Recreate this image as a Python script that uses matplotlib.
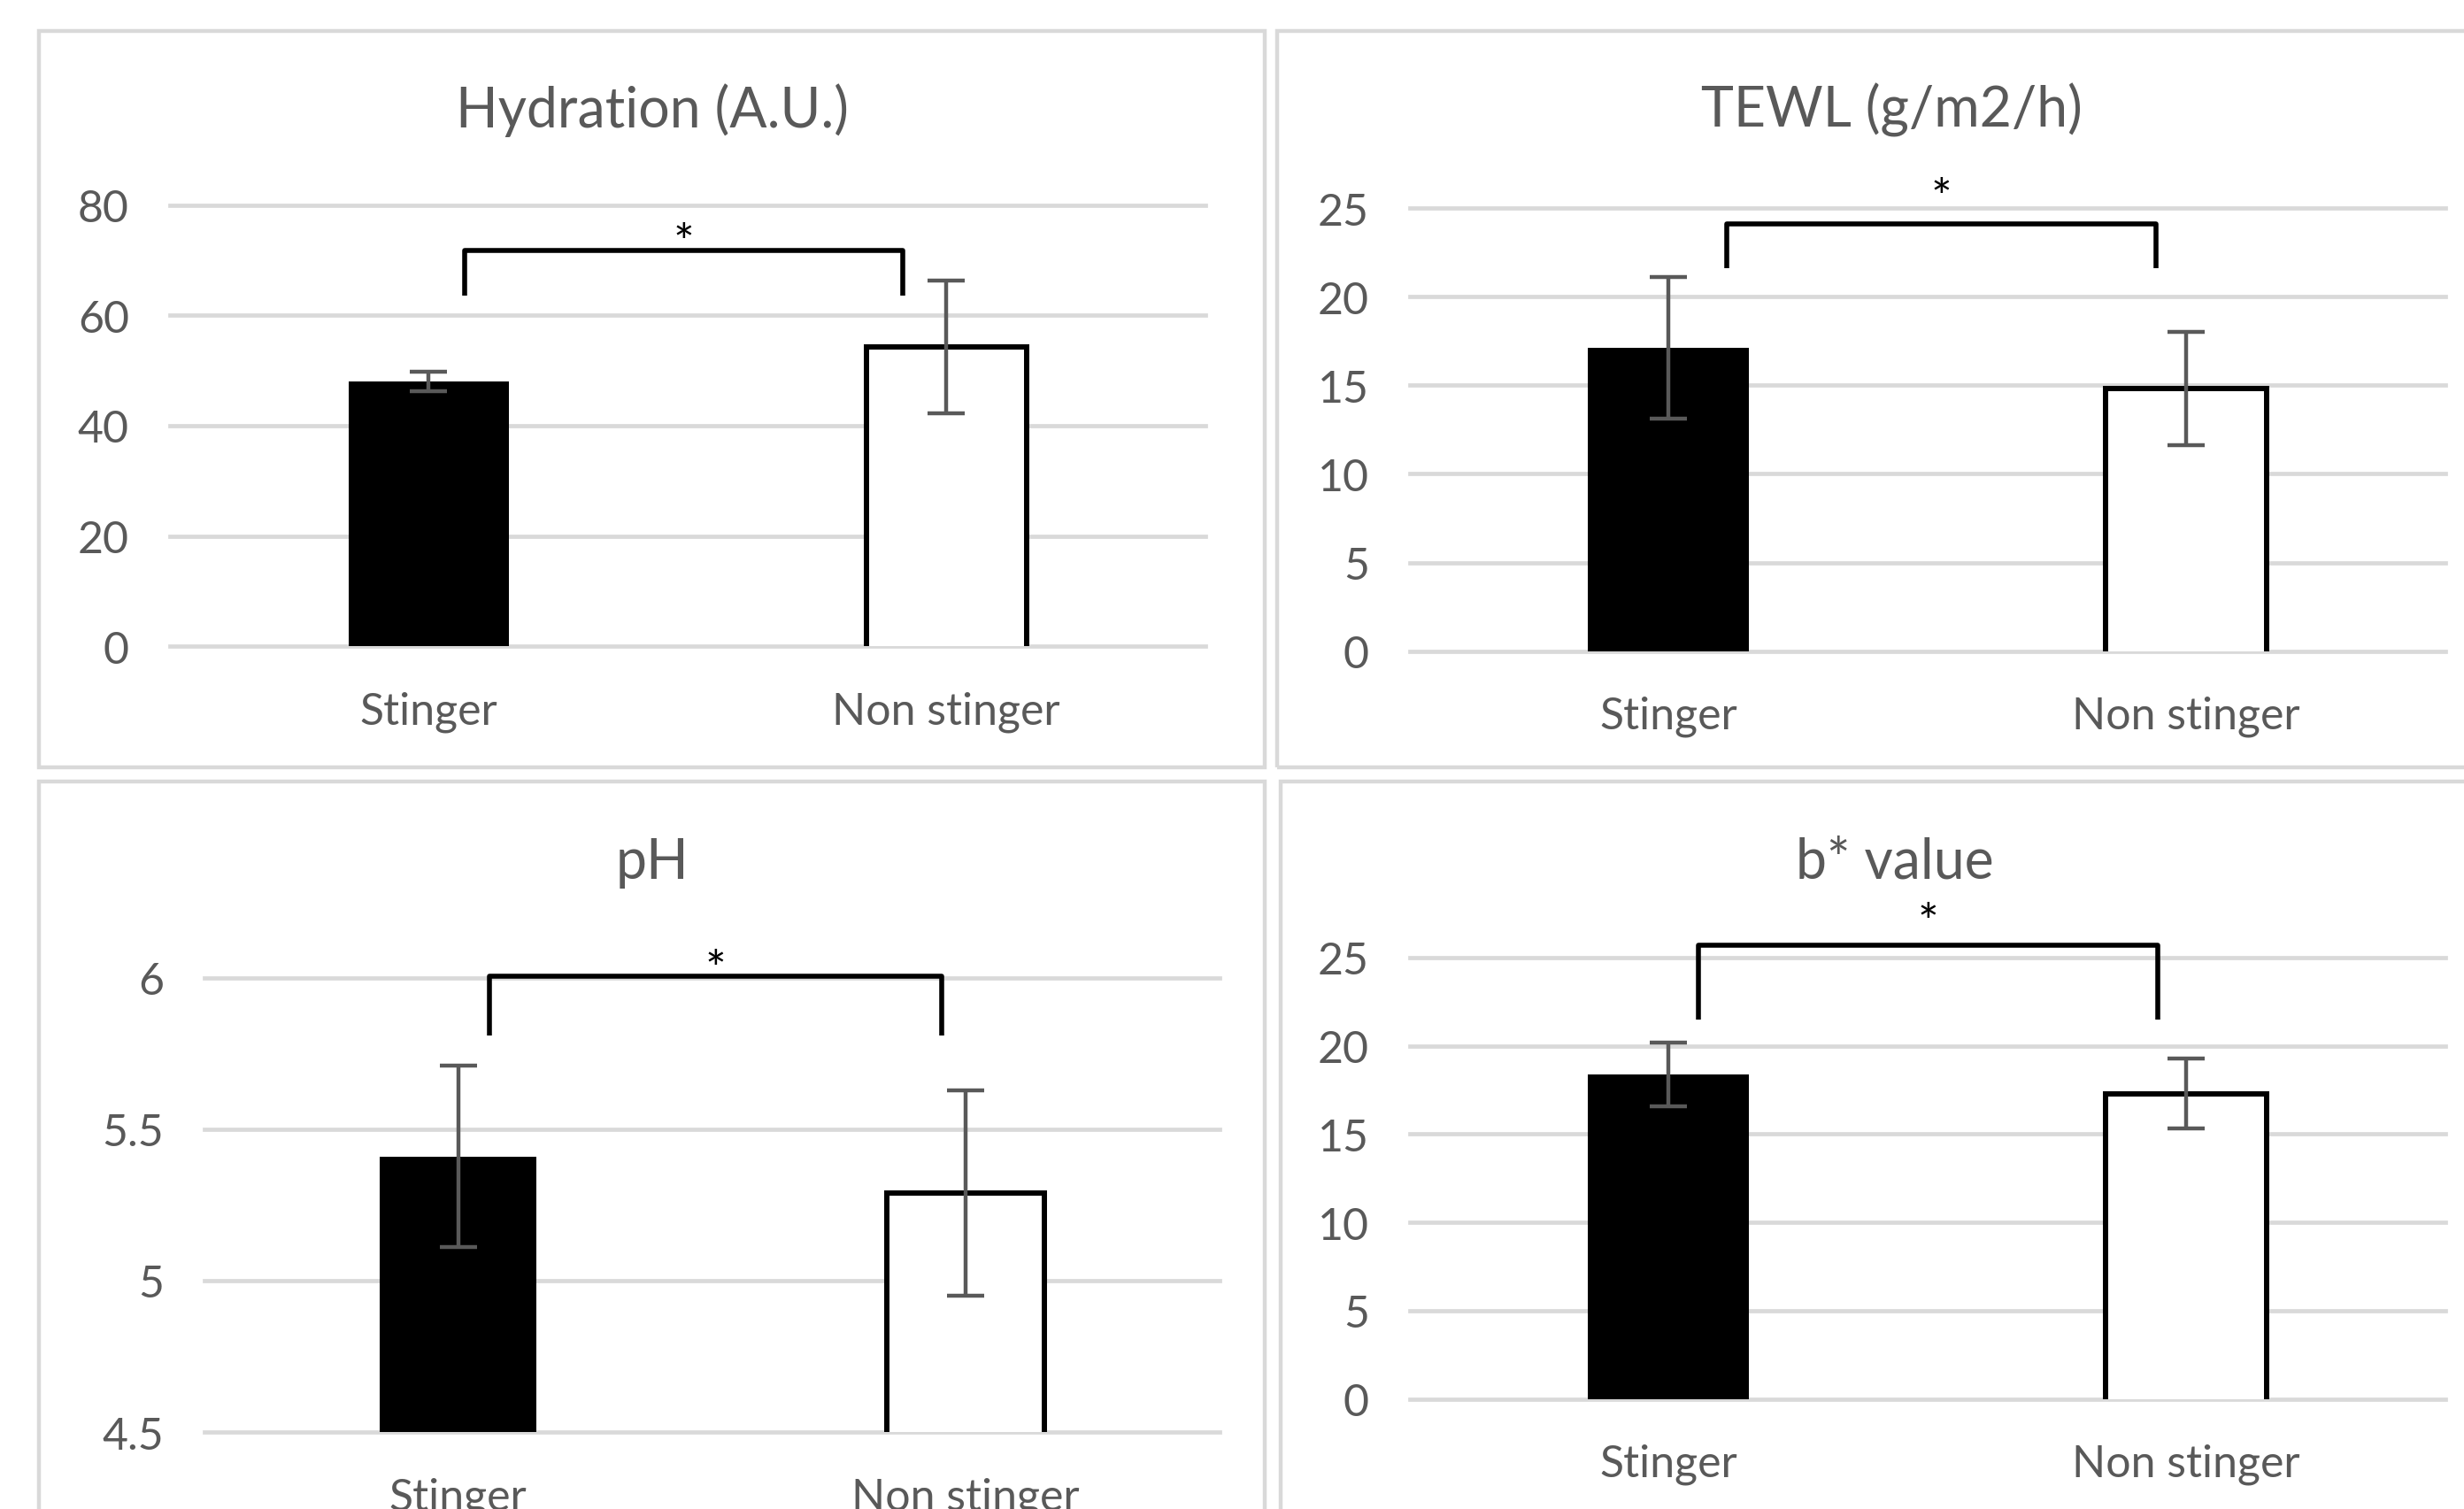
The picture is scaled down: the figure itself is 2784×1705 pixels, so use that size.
import matplotlib
matplotlib.use("Agg")
import matplotlib.pyplot as plt
from matplotlib.patches import Rectangle

# datos de las cuatro graficas
categorias = ["Stinger", "Non stinger"]
titulos = ["Hydration (A.U.)", "TEWL (g/m2/h)", "pH", "b* value"]

hydration = [48.0, 54.3]
hydration_err = [1.7, 12.0]
tewl = [17.1, 14.8]
tewl_err = [4.0, 3.2]
ph = [5.41, 5.29]
ph_err = [0.30, 0.34]
bvalue = [18.4, 17.3]
bvalue_err = [1.8, 2.0]

yticks_hyd = [0, 20, 40, 60, 80]
yticks_tewl = [0, 5, 10, 15, 20, 25]
yticks_ph = [4.5, 5, 5.5, 6]
yticks_b = [0, 5, 10, 15, 20, 25]

# corchete de significancia (*)
corchete_y = [71.7, 24.1, 6.005, 25.7]
corchete_pata = [63.5, 21.6, 5.81, 21.5]
estrella_y = [75.4, 26.3, 6.07, 27.7]
corchete_x = [(0.07, 0.915), (0.112, 0.942), (0.062, 0.953), (0.058, 0.945)]

valores = [hydration, tewl, ph, bvalue]
errores = [hydration_err, tewl_err, ph_err, bvalue_err]
yticks = [yticks_hyd, yticks_tewl, yticks_ph, yticks_b]

# layout en pixeles de la imagen de 1568x961
W, H = 1568.0, 961.0
ejes_px = [(108, 767, 131, 412), (897, 1556, 133, 415),
           (130, 776, 623, 912), (897, 1556, 610, 891)]
cajas_px = [(25, 805, 20, 489), (813, 1595, 20, 489),
            (25, 805, 498, 975), (815, 1597, 498, 975)]
titulo_px = [70, 70, 549, 549]

gris = "#595959"
grid_col = "#D9D9D9"
fuente = ["Lato", "DejaVu Sans"]
plt.rcParams['font.family'] = fuente

fig = plt.figure(figsize=(27.84, 17.06), dpi=100)

for k in range(4):
    # marco del panel
    x0, x1, y0, y1 = cajas_px[k]
    fig.patches.append(Rectangle((x0 / W, 1 - y1 / H), (x1 - x0) / W, (y1 - y0) / H,
                                 transform=fig.transFigure, fill=False,
                                 edgecolor=grid_col, linewidth=3.2))
    fig.text((x0 + x1) / 2 / W, 1 - titulo_px[k] / H, titulos[k], ha="center", va="center",
             fontsize=45, color=gris)

    l, r, t, b = ejes_px[k]
    ax = fig.add_axes([l / W, 1 - b / H, (r - l) / W, (b - t) / H])
    ticks = yticks[k]
    ax.set_xlim(-0.5, 1.5)
    ax.set_ylim(ticks[0], ticks[-1])
    for tv in ticks:
        ax.axhline(tv, color=grid_col, linewidth=3.4, zorder=0, clip_on=False)

    x = [0, 1]
    ax.bar(x[0], valores[k][0], width=0.31, color="black", zorder=2)
    barra = ax.bar(x[1], valores[k][1], width=0.31, color="white", linewidth=0, zorder=2)[0]
    # borde sin el lado de abajo
    bx, bw, bh = barra.get_x(), barra.get_width(), barra.get_height()
    ax.plot([bx, bx, bx + bw, bx + bw], [0, bh, bh, 0], color="black", linewidth=4.3,
            zorder=2.5, solid_joinstyle="miter")
    ax.errorbar(x, valores[k], yerr=errores[k], fmt="none", ecolor=gris,
                elinewidth=3.2, capsize=15, capthick=3.2, zorder=3)

    # corchete
    xa, xb = corchete_x[k]
    ax.plot([xa, xa, xb, xb], [corchete_pata[k], corchete_y[k], corchete_y[k], corchete_pata[k]],
            color="black", linewidth=4, clip_on=False, zorder=4, solid_capstyle="butt")
    ax.annotate("*", ((xa + xb) / 2, estrella_y[k]), xytext=(0, -12), textcoords="offset points",
                ha="center", va="center", fontsize=40, color="black", annotation_clip=False)

    ax.set_xticks(x)
    ax.set_xticklabels(categorias)
    ax.set_yticks(ticks)
    ax.set_yticklabels(["{:g}".format(v) for v in ticks])
    ax.tick_params(axis="both", length=0, labelsize=36, labelcolor=gris)
    ax.tick_params(axis="y", pad=33)
    ax.tick_params(axis="x", pad=36)
    for s in ax.spines.values():
        s.set_visible(False)
    ax.set_facecolor("none")

fig.savefig("out.png", dpi=100)
